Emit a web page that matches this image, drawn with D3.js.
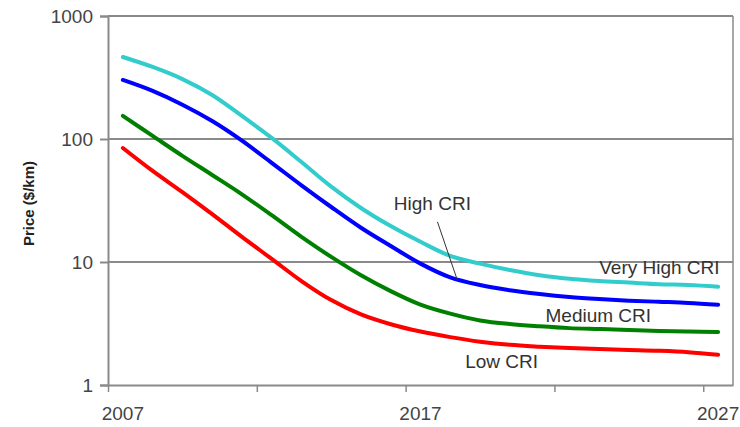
<!DOCTYPE html>
<html>
<head>
<meta charset="utf-8">
<script src="https://cdn.jsdelivr.net/npm/d3@7"></script>
<style>
	body { margin: 0; background: #fff; }
	svg { display: block; font-family: 'Liberation Sans', Arial, sans-serif; }
</style>
</head>
<body>
<svg id="chart"></svg>
<script>
// data (price in $/km, log axis)
let years = [2007, 2008, 2009, 2010, 2011, 2012, 2013, 2014, 2015, 2016, 2017,
	2018, 2019, 2020, 2021, 2022, 2023, 2024, 2025, 2026, 2027]

let veryHigh = [464, 385, 307, 228, 154, 102, 65, 41, 27.5, 19.6, 14.6,
	11.2, 9.7, 8.6, 7.8, 7.3, 7.0, 6.8, 6.6, 6.5, 6.3]
let high = [302, 246, 190, 140, 97, 64, 42, 28, 19.0, 13.5, 9.7,
	7.5, 6.5, 5.9, 5.5, 5.2, 5.0, 4.85, 4.75, 4.65, 4.5]
let medium = [154, 106, 73, 51, 35.5, 24, 16, 11, 7.8, 5.8, 4.5,
	3.8, 3.35, 3.13, 3.0, 2.9, 2.85, 2.8, 2.75, 2.72, 2.7]
let low = [84.5, 55, 37, 24.5, 16, 10.6, 7.0, 4.9, 3.75, 3.12, 2.72,
	2.45, 2.25, 2.12, 2.05, 2.0, 1.96, 1.93, 1.9, 1.85, 1.76]

let seriesNames = ['Very High CRI', 'High CRI', 'Medium CRI', 'Low CRI']
let seriesColors = ['#33cccc', '#0000ff', '#008000', '#ff0000']

let yTicks = [1, 10, 100, 1000]
let xTickLabels = [2007, 2017, 2027]
let xTickMarks = [2006.5, 2011.5, 2016.5, 2021.5, 2026.5]

// label anchors (year, value)
let labelPos = [
	{ name: 'Very High CRI', year: 2027.05, value: 8.0, anchor: 'end' },
	{ name: 'High CRI', year: 2017.4, value: 26.5, anchor: 'middle' },
	{ name: 'Medium CRI', year: 2021.2, value: 3.25, anchor: 'start' },
	{ name: 'Low CRI', year: 2018.5, value: 1.37, anchor: 'start' }
]
let pointer = [{ year: 2017.57, value: 21.2 }, { year: 2018.24, value: 7.1 }]

let width = 740
let height = 427
let margin = ({ top: 16, right: 7, bottom: 42, left: 108 })

let x = d3.scaleLinear()
	.domain([2006.5, 2027.5])
	.range([margin.left, width - margin.right])
let y = d3.scaleLog()
	.domain([1, 1000])
	.range([height - margin.bottom, margin.top])

let svg = d3.select('#chart')
	.attr('width', width)
	.attr('height', height)

let gridColor = '#8a8a8a'

// horizontal gridlines (1000 line is the top of the frame)
svg.append('g')
	.selectAll('line')
	.data(yTicks.filter(d => d > 1))
	.join('line')
	.attr('x1', margin.left)
	.attr('x2', width - margin.right)
	.attr('y1', d => y(d))
	.attr('y2', d => y(d))
	.attr('stroke', gridColor)
	.attr('stroke-width', 2)

// right border
svg.append('line')
	.attr('x1', width - margin.right)
	.attr('x2', width - margin.right)
	.attr('y1', margin.top)
	.attr('y2', height - margin.bottom)
	.attr('stroke', gridColor)
	.attr('stroke-width', 1.5)

// y axis
let yAxis = svg.append('g')
	.attr('transform', `translate(${margin.left},0)`)
	.call(d3.axisLeft(y).tickValues(yTicks).tickFormat(d3.format('d')).tickSize(8).tickPadding(7))
yAxis.select('.domain').attr('stroke', gridColor).attr('stroke-width', 2)
yAxis.selectAll('.tick line').attr('stroke', gridColor).attr('stroke-width', 2)
yAxis.selectAll('.tick text')
	.attr('fill', '#444')
	.style('font-size', '19px')

// x axis
let xAxis = svg.append('g')
	.attr('transform', `translate(0,${height - margin.bottom})`)
	.call(d3.axisBottom(x).tickValues(xTickMarks).tickFormat('').tickSize(7).tickSizeOuter(0))
xAxis.select('.domain').attr('stroke', gridColor).attr('stroke-width', 2)
xAxis.selectAll('.tick line').attr('stroke', gridColor).attr('stroke-width', 1.5)

svg.append('g')
	.selectAll('text')
	.data(xTickLabels)
	.join('text')
	.attr('x', d => x(d))
	.attr('y', height - margin.bottom + 35)
	.attr('text-anchor', 'middle')
	.attr('fill', '#444')
	.style('font-size', '19px')
	.text(d => d)

// y axis title
svg.append('text')
	.attr('transform', `translate(34,${(y(1) + y(1000)) / 2 + 3}) rotate(-90)`)
	.attr('text-anchor', 'middle')
	.style('font-size', '15px')
	.style('font-weight', 'bold')
	.attr('fill', '#222')
	.text('Price ($/km)')

// lines
let seriesValues = [veryHigh, high, medium, low]
let line = d3.line()
	.x((d, i) => x(years[i]))
	.y(d => y(d))
	.curve(d3.curveCatmullRom.alpha(0.5))

svg.append('g')
	.attr('fill', 'none')
	.selectAll('path')
	.data(seriesValues)
	.join('path')
	.attr('d', line)
	.attr('stroke', (d, i) => seriesColors[i])
	.attr('stroke-width', 4)
	.attr('stroke-linecap', 'round')
	.attr('stroke-linejoin', 'round')

// pointer for High CRI
svg.append('line')
	.attr('x1', x(pointer[0].year))
	.attr('y1', y(pointer[0].value))
	.attr('x2', x(pointer[1].year))
	.attr('y2', y(pointer[1].value))
	.attr('stroke', '#333')
	.attr('stroke-width', 1)

// series labels
svg.append('g')
	.selectAll('text')
	.data(labelPos)
	.join('text')
	.attr('x', d => x(d.year))
	.attr('y', d => y(d.value))
	.attr('text-anchor', d => d.anchor)
	.attr('fill', '#333')
	.style('font-size', '19px')
	.text(d => d.name)
</script>
</body>
</html>
